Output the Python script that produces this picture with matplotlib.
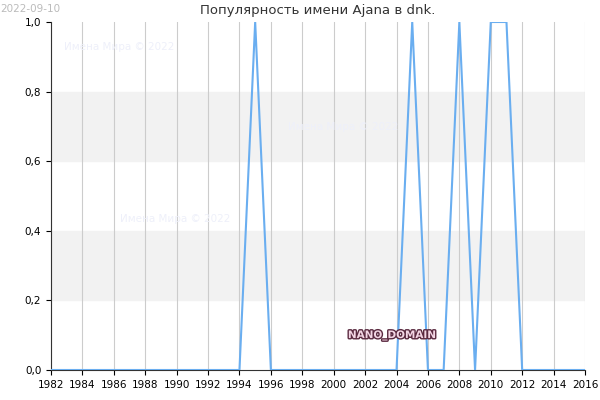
import matplotlib
matplotlib.use("Agg")
import matplotlib.pyplot as plt
import matplotlib.patheffects as pe

years = list(range(1982, 2017))
values = [0]*len(years)
for y in (1995, 2005, 2008, 2010, 2011):
    values[years.index(y)] = 1
xticks = list(range(1982, 2017, 2))
yticks = [0.0, 0.2, 0.4, 0.6, 0.8, 1.0]

fig = plt.figure(figsize=(6, 4), dpi=100)
ax = fig.add_axes([51/600, 30/400, 534/600, 348/400])
ax.set_xlim(1982, 2016)
ax.set_ylim(0, 1)
for lo, hi in ((0.2, 0.4), (0.6, 0.8)):
    ax.axhspan(lo, hi, color='#f2f2f2', zorder=0)
for x in xticks:
    ax.axvline(x, color='#cccccc', lw=0.8, zorder=1)
ax.plot(years, values, color='#6aaef0', lw=1.5, zorder=3)
ax.set_xticks(xticks)
ax.set_xticklabels([str(x) for x in xticks], fontsize=7.5)
ax.set_yticks(yticks)
ax.set_yticklabels([f"{v:.1f}".replace('.', ',') for v in yticks], fontsize=7.5)
for s in ('top', 'right'):
    ax.spines[s].set_visible(False)
ax.spines['left'].set_color('#333333')
ax.spines['bottom'].set_color('#333333')
ax.set_title("Популярность имени Ajana в dnk.", fontsize=9.5, color='#333333', pad=6)
fig.text(0.0, 0.99, "2022-09-10", fontsize=7.5, color='#bbbbbb', va='top')
for x, y in ((0.106, 0.875), (0.48, 0.675), (0.2, 0.445)):
    fig.text(x, y, "Имена Мира © 2022", fontsize=7.5, color='#eef0fa')
ax.text(2006.5, 0.1, "NANO_DOMAIN", fontsize=7.5, ha='right', va='center', color='#f3d6e4',
        fontweight='bold', zorder=5,
        path_effects=[pe.withStroke(linewidth=2, foreground='#5a2a40')])
fig.savefig("out.png", dpi=100)
